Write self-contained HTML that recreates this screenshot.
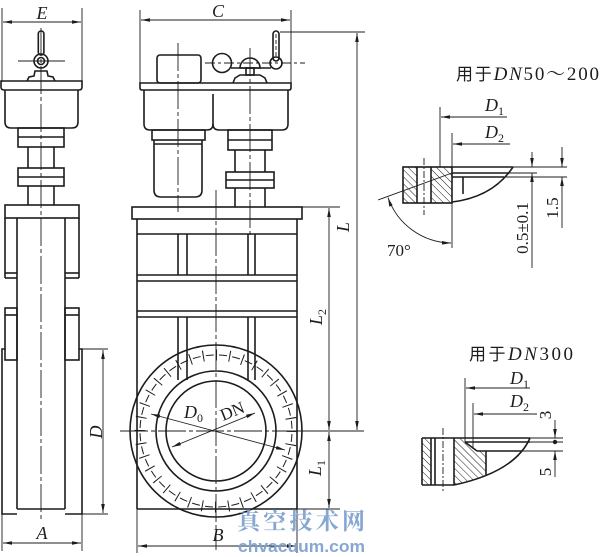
<!DOCTYPE html>
<html><head><meta charset="utf-8"><style>
html,body{margin:0;padding:0;background:#fff;width:600px;height:557px;overflow:hidden}
svg{display:block}
.o{fill:none;stroke:#1c1c1c;stroke-width:1.6}
.t{fill:none;stroke:#1c1c1c;stroke-width:0.9}
.c{fill:none;stroke:#1c1c1c;stroke-width:0.9;stroke-dasharray:28,3,4,3}
.cs{fill:none;stroke:#1c1c1c;stroke-width:0.9;stroke-dasharray:7,2,2,2}
.lbl{font-family:"Liberation Serif",serif;font-style:italic;font-size:18px;fill:#1c1c1c}
.n{font-family:"Liberation Serif",serif;font-size:17px;fill:#1c1c1c}
.sub{font-family:"Liberation Serif",serif;font-style:normal;font-size:12px}
</style></head><body>
<svg width="600" height="557" viewBox="0 0 600 557" xmlns="http://www.w3.org/2000/svg">
<defs>
<marker id="a" viewBox="0 0 10 4" refX="10" refY="2" markerWidth="10" markerHeight="3.6" markerUnits="userSpaceOnUse" orient="auto-start-reverse"><path d="M0,0L10,2L0,4z" fill="#1c1c1c"/></marker>
<pattern id="h" patternUnits="userSpaceOnUse" width="5" height="5" patternTransform="rotate(-45)"><line x1="0" y1="0" x2="0" y2="5" stroke="#1c1c1c" stroke-width="1"/></pattern>
</defs>

<!-- ================= LEFT VIEW ================= -->
<line class="t" x1="2" y1="8" x2="2" y2="82"/>
<line class="t" x1="82" y1="8" x2="82" y2="82"/>
<line class="t" x1="3" y1="22" x2="81" y2="22" marker-start="url(#a)" marker-end="url(#a)"/>
<text class="lbl" x="42" y="19" text-anchor="middle">E</text>

<rect class="o" x="38.3" y="31" width="5.6" height="24" rx="2.8"/>
<circle class="o" cx="41" cy="61" r="7" fill="#fff"/>
<circle class="o" cx="41" cy="61" r="3.5"/>
<line class="t" x1="18" y1="61" x2="65" y2="61"/>
<path class="o" d="M27,81 L29,77 L34,76 L35,71 L47,71 L48,76 L53,77 L55,81"/>
<path class="o" d="M1,81 H82 V87 Q82,90 79,90 H4 Q1,90 1,87 Z"/>
<path class="o" d="M5,90 V122 Q5,128 11,128 H72 Q78,128 78,122 V90"/>
<rect class="o" x="18" y="128" width="46" height="19"/>
<line class="o" x1="18" y1="137" x2="64" y2="137"/>
<line class="o" x1="28" y1="147" x2="28" y2="168"/>
<line class="o" x1="54" y1="147" x2="54" y2="168"/>
<rect class="o" x="18" y="168" width="46" height="18"/>
<line class="o" x1="18" y1="177" x2="64" y2="177"/>
<line class="o" x1="28" y1="186" x2="28" y2="205"/>
<line class="o" x1="54" y1="186" x2="54" y2="205"/>
<rect class="o" x="5" y="205" width="74" height="13"/>
<line class="o" x1="17" y1="218" x2="17" y2="509"/>
<line class="o" x1="65" y1="218" x2="65" y2="509"/>
<line class="o" x1="5" y1="218" x2="5" y2="278"/>
<line class="o" x1="79" y1="218" x2="79" y2="278"/>
<line class="o" x1="5" y1="273" x2="17" y2="273"/>
<line class="o" x1="65" y1="273" x2="79" y2="273"/>
<line class="o" x1="5" y1="278" x2="17" y2="278"/>
<line class="o" x1="65" y1="278" x2="79" y2="278"/>
<rect class="o" x="5" y="308" width="12" height="52"/>
<rect class="o" x="65" y="308" width="14" height="52"/>
<line class="o" x1="5" y1="315" x2="17" y2="315"/>
<line class="o" x1="65" y1="315" x2="79" y2="315"/>
<path class="o" d="M5,349 H2 V514 H17"/>
<path class="o" d="M79,349 H82 V514 H65"/>
<line class="o" x1="17" y1="509" x2="65" y2="509"/>
<line class="c" x1="41" y1="28" x2="41" y2="522"/>
<!-- D dim -->
<line class="t" x1="82" y1="349" x2="108" y2="349"/>
<line class="t" x1="82" y1="514" x2="108" y2="514"/>
<line class="t" x1="103" y1="350" x2="103" y2="513" marker-start="url(#a)" marker-end="url(#a)"/>
<text class="lbl" transform="translate(102,432) rotate(-90)" text-anchor="middle">D</text>
<!-- A dim -->
<line class="t" x1="2" y1="514" x2="2" y2="551"/>
<line class="t" x1="82" y1="514" x2="82" y2="551"/>
<line class="t" x1="3" y1="543" x2="81" y2="543" marker-start="url(#a)" marker-end="url(#a)"/>
<text class="lbl" x="42" y="539" text-anchor="middle">A</text>

<!-- ================= MAIN VIEW ================= -->
<line class="t" x1="140" y1="10" x2="140" y2="83"/>
<line class="t" x1="291" y1="10" x2="291" y2="83"/>
<line class="t" x1="141" y1="20" x2="290" y2="20" marker-start="url(#a)" marker-end="url(#a)"/>
<text class="lbl" x="218" y="17" text-anchor="middle">C</text>

<rect class="o" x="273" y="31" width="6" height="30" rx="3"/>
<line class="t" x1="276" y1="34" x2="276" y2="58" stroke-dasharray="4,2"/>
<circle class="o" cx="276" cy="63" r="6" fill="#fff"/>
<circle class="o" cx="222" cy="63" r="9.5"/>
<line class="c" x1="205" y1="63" x2="305" y2="63" style="stroke-dasharray:10,3,3,3"/>
<line class="o" x1="231" y1="68" x2="271" y2="68"/>
<path class="o" d="M240,68 A10,10 0 0 1 260,68 Z" fill="#fff"/>
<rect class="o" x="246" y="68" width="8" height="7"/>
<path class="o" d="M233,83 L235,78 L240,75 L260,75 L265,78 L267,83"/>
<line class="t" x1="280" y1="32" x2="365" y2="32"/>
<rect class="o" x="157" y="55" width="44" height="28" rx="3"/>
<path class="o" d="M140,83 H291 V88 Q291,90 289,90 H142 Q140,90 140,88 Z"/>
<path class="o" d="M144,90 V124 Q144,130 150,130 H207 Q213,130 213,124 V94"/>
<path class="o" d="M213,124 Q213,130 219,130 H282 Q288,130 288,124 V90"/>
<rect class="o" x="152" y="130" width="53" height="10"/>
<path class="o" d="M154,140 V190 Q154,197 161,197 H195 Q202,197 202,190 V140"/>
<line class="o" x1="154" y1="144" x2="202" y2="144"/>
<rect class="o" x="228" y="130" width="44" height="20"/>
<line class="o" x1="228" y1="140" x2="272" y2="140"/>
<line class="o" x1="235" y1="150" x2="235" y2="172"/>
<line class="o" x1="265" y1="150" x2="265" y2="172"/>
<rect class="o" x="226" y="172" width="48" height="16"/>
<line class="o" x1="226" y1="180" x2="274" y2="180"/>
<line class="o" x1="235" y1="188" x2="235" y2="207"/>
<line class="o" x1="265" y1="188" x2="265" y2="207"/>
<line class="c" x1="178" y1="43" x2="178" y2="212"/>
<line class="c" x1="250" y1="48" x2="250" y2="236"/>
<rect class="o" x="132" y="207" width="170" height="12"/>
<line class="o" x1="137" y1="219" x2="137" y2="509"/>
<line class="o" x1="297" y1="219" x2="297" y2="509"/>
<line class="o" x1="137" y1="234" x2="297" y2="234"/>
<line class="o" x1="178" y1="234" x2="178" y2="275"/>
<line class="o" x1="187" y1="234" x2="187" y2="275"/>
<line class="o" x1="248" y1="234" x2="248" y2="275"/>
<line class="o" x1="255" y1="234" x2="255" y2="275"/>
<line class="o" x1="137" y1="275" x2="297" y2="275"/>
<line class="o" x1="137" y1="281" x2="297" y2="281"/>
<line class="o" x1="137" y1="311" x2="297" y2="311"/>
<line class="o" x1="137" y1="317" x2="297" y2="317"/>
<line class="o" x1="178" y1="317" x2="178" y2="380"/>
<line class="o" x1="187" y1="317" x2="187" y2="380"/>
<line class="o" x1="248" y1="317" x2="248" y2="380"/>
<line class="o" x1="255" y1="317" x2="255" y2="380"/>
<line class="o" x1="137" y1="509" x2="297" y2="509"/>
<circle class="o" cx="216" cy="431" r="86" fill="#fff"/>
<circle cx="216" cy="431" r="76" fill="none" stroke="#1c1c1c" stroke-width="11" stroke-dasharray="1 12.26"/>
<circle cx="216" cy="431" r="76" fill="none" stroke="#1c1c1c" stroke-width="1" stroke-dasharray="8 5.26" stroke-dashoffset="-3"/>
<circle class="o" cx="216" cy="431" r="60"/>
<circle class="o" cx="216" cy="431" r="50"/>
<line class="c" x1="120" y1="431" x2="300" y2="431"/>
<line class="t" x1="300" y1="431" x2="364" y2="431"/>
<line class="c" x1="216" y1="190" x2="216" y2="550"/>
<line class="t" x1="151" y1="414" x2="285" y2="450" marker-start="url(#a)" marker-end="url(#a)"/>
<line class="t" x1="172" y1="447" x2="255" y2="413" marker-start="url(#a)" marker-end="url(#a)"/>
<text class="lbl" x="184" y="418">D<tspan class="sub" dy="4">0</tspan></text>
<text class="n" transform="translate(223,421) rotate(-22)" font-size="18">DN</text>
<line class="t" x1="137" y1="509" x2="137" y2="553"/>
<line class="t" x1="297" y1="509" x2="297" y2="553"/>
<line class="t" x1="138" y1="546" x2="296" y2="546" marker-start="url(#a)" marker-end="url(#a)"/>
<text class="lbl" x="218" y="541" text-anchor="middle">B</text>
<line class="t" x1="357" y1="33" x2="357" y2="430" marker-start="url(#a)" marker-end="url(#a)"/>
<text class="lbl" transform="translate(349,227) rotate(-90)" text-anchor="middle">L</text>
<line class="t" x1="302" y1="207" x2="340" y2="207"/>
<line class="t" x1="329" y1="208" x2="329" y2="430" marker-start="url(#a)" marker-end="url(#a)"/>
<text class="lbl" transform="translate(322,317) rotate(-90)" text-anchor="middle">L<tspan class="sub" dy="4">2</tspan></text>
<line class="t" x1="297" y1="509" x2="340" y2="509"/>
<line class="t" x1="329" y1="432" x2="329" y2="508" marker-start="url(#a)" marker-end="url(#a)"/>
<text class="lbl" transform="translate(321,468) rotate(-90)" text-anchor="middle">L<tspan class="sub" dy="4">1</tspan></text>

<!-- ================= DETAIL DN50~200 ================= -->
<text x="456" y="80" textLength="143" lengthAdjust="spacing" font-size="19" fill="#1c1c1c" font-family="'Liberation Serif','Noto Serif CJK SC',serif"><tspan font-family="'Noto Sans CJK SC',sans-serif" font-size="17">用于</tspan><tspan font-style="italic">DN</tspan>50～200</text>
<text class="lbl" x="485" y="111">D<tspan class="sub" dy="4">1</tspan></text>
<line class="t" x1="507" y1="117" x2="441" y2="117" marker-end="url(#a)"/>
<line class="t" x1="440" y1="107" x2="440" y2="167"/>
<text class="lbl" x="485" y="138">D<tspan class="sub" dy="4">2</tspan></text>
<line class="t" x1="510" y1="144" x2="453" y2="144" marker-end="url(#a)"/>
<line class="t" x1="452" y1="133" x2="452" y2="248"/>
<rect x="403" y="167" width="14" height="36" fill="url(#h)"/>
<rect x="431" y="167" width="21" height="36" fill="url(#h)"/>
<rect class="o" x="403" y="167" width="49" height="36"/>
<line class="o" x1="417" y1="167" x2="417" y2="203"/>
<line class="o" x1="431" y1="167" x2="431" y2="203"/>
<line class="cs" x1="424" y1="158" x2="424" y2="215"/>
<line class="t" x1="378" y1="200" x2="452" y2="173"/>
<line class="o" x1="452" y1="167" x2="513" y2="167"/>
<line class="o" x1="452" y1="173" x2="508" y2="173"/>
<line class="o" x1="452" y1="177" x2="504" y2="177"/>
<line class="o" x1="463" y1="177" x2="463" y2="194"/>
<path class="o" d="M513,167 Q493,197 452,202"/>
<line class="t" x1="513" y1="167" x2="567" y2="167"/>
<line class="t" x1="508" y1="173" x2="537" y2="173"/>
<line class="t" x1="504" y1="177" x2="567" y2="177"/>
<line class="t" x1="532" y1="152" x2="532" y2="167" marker-end="url(#a)"/>
<line class="t" x1="532" y1="268" x2="532" y2="173" marker-end="url(#a)"/>
<line class="t" x1="562" y1="147" x2="562" y2="167" marker-end="url(#a)"/>
<line class="t" x1="562" y1="228" x2="562" y2="177" marker-end="url(#a)"/>
<text class="n" transform="translate(528,228) rotate(-90)" text-anchor="middle">0.5±0.1</text>
<text class="n" transform="translate(558,208) rotate(-90)" text-anchor="middle">1.5</text>
<path class="t" d="M388,197.5 A68,68 0 0 0 451,243" marker-start="url(#a)" marker-end="url(#a)"/>
<text class="n" x="387" y="256">70°</text>

<!-- ================= DETAIL DN300 ================= -->
<text x="469" y="360" textLength="104" lengthAdjust="spacing" font-size="19" fill="#1c1c1c" font-family="'Liberation Serif','Noto Serif CJK SC',serif"><tspan font-family="'Noto Sans CJK SC',sans-serif" font-size="17">用于</tspan><tspan font-style="italic">DN</tspan>300</text>
<text class="lbl" x="510" y="384">D<tspan class="sub" dy="4">1</tspan></text>
<line class="t" x1="530" y1="388" x2="466" y2="388" marker-end="url(#a)"/>
<line class="t" x1="465" y1="378" x2="465" y2="442"/>
<text class="lbl" x="510" y="407">D<tspan class="sub" dy="4">2</tspan></text>
<line class="t" x1="537" y1="414" x2="474" y2="414" marker-end="url(#a)"/>
<line class="t" x1="473" y1="403" x2="473" y2="449"/>
<rect x="422" y="438" width="9" height="47" fill="url(#h)"/>
<polygon points="454,438 465,438 465,442 477,451 486,451 486,475 470,481 454,485" fill="url(#h)"/>
<line class="o" x1="422" y1="438" x2="530" y2="438"/>
<line class="o" x1="422" y1="438" x2="422" y2="485"/>
<line class="o" x1="431" y1="438" x2="431" y2="485"/>
<line class="o" x1="435" y1="438" x2="435" y2="485"/>
<line class="o" x1="454" y1="438" x2="454" y2="485"/>
<line class="o" x1="422" y1="485" x2="454" y2="485"/>
<line class="cs" x1="443" y1="428" x2="443" y2="493"/>
<line class="o" x1="465" y1="442" x2="530" y2="442"/>
<line class="o" x1="465" y1="442" x2="477" y2="451"/>
<line class="o" x1="477" y1="451" x2="522" y2="451"/>
<line class="o" x1="486" y1="451" x2="486" y2="475"/>
<path class="o" d="M530,438 Q515,472 454,485"/>
<line class="t" x1="530" y1="438" x2="563" y2="438"/>
<line class="t" x1="530" y1="442" x2="563" y2="442"/>
<line class="t" x1="522" y1="451" x2="563" y2="451"/>
<line class="t" x1="555" y1="420" x2="555" y2="438" marker-end="url(#a)"/>
<line class="t" x1="555" y1="477" x2="555" y2="451" marker-end="url(#a)"/>
<circle cx="555" cy="442" r="2.2" fill="#1c1c1c"/>
<text class="n" transform="translate(551,415) rotate(-90)" text-anchor="middle">3</text>
<text class="n" transform="translate(551,472) rotate(-90)" text-anchor="middle">5</text>

<!-- ================= WATERMARK ================= -->
<text x="237" y="529" textLength="128" lengthAdjust="spacing" font-size="23" font-weight="bold" fill="#7fa2d0" fill-opacity="0.95" font-family="'Noto Serif CJK SC','Noto Sans CJK SC',serif">真空技术网</text>
<text x="238" y="552" textLength="127" lengthAdjust="spacingAndGlyphs" font-size="17" font-weight="bold" fill="#7fa2d0" fill-opacity="0.95" font-family="'Liberation Sans',sans-serif">chvacuum.com</text>
</svg>
</body></html>
